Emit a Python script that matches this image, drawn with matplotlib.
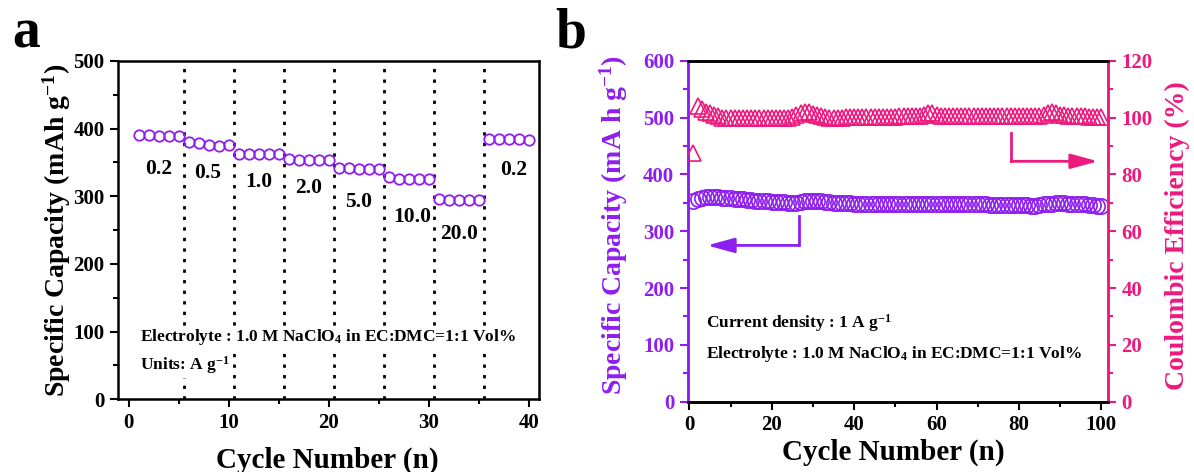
import numpy as np
import matplotlib
matplotlib.use('Agg')
import matplotlib.pyplot as plt
from matplotlib.ticker import MultipleLocator

plt.rcParams['font.family'] = ['Liberation Serif', 'DejaVu Serif']
plt.rcParams['font.weight'] = 'bold'
plt.rcParams['mathtext.fontset'] = 'custom'
plt.rcParams['mathtext.rm'] = 'Liberation Serif:bold'
plt.rcParams['mathtext.it'] = 'Liberation Serif:bold'
plt.rcParams['mathtext.bf'] = 'Liberation Serif:bold'
plt.rcParams['mathtext.default'] = 'rm'

PURPLE = '#8E1EF0'
PINK = '#EC1A7E'

# panel a: rate capability
rate_cycles = np.arange(1, 41)
rate_capacity = [390, 390, 389, 389, 389,
                 381, 379, 376, 375, 376,
                 362, 362, 363, 363, 362,
                 355, 354, 353, 353, 353,
                 342, 342, 341, 341, 341,
                 328, 326, 326, 326, 325,
                 296, 295, 294, 295, 295,
                 385, 385, 385, 384, 383]
rate_bounds = [5.5, 10.5, 15.5, 20.5, 25.5, 30.5, 35.5]
rate_labels = ['0.2', '0.5', '1.0', '2.0', '5.0', '10.0', '20.0', '0.2']
rate_label_x = [3.0, 7.9, 13.0, 18.0, 23.0, 28.3, 33.0, 38.5]
rate_label_y = [341, 335, 321, 312, 292, 270, 244, 339]

# panel b: cycling at 1 A/g
cyc = np.arange(1, 101)
cyc_capacity = [354, 357, 359, 360, 360, 360, 360, 359, 359, 358,
                357, 357, 356, 355, 355, 354, 354, 353, 353, 352,
                352, 351, 351, 350, 350, 350, 351, 353, 354, 354,
                354, 353, 352, 351, 350, 350, 349, 349, 349, 348,
                348, 348, 348, 347, 347, 347, 347, 347, 347, 347,
                347, 347, 347, 347, 347, 347, 348, 348, 348, 348,
                347, 347, 347, 347, 347, 347, 347, 347, 347, 347,
                347, 347, 346, 346, 346, 346, 346, 346, 346, 346,
                346, 346, 345, 345, 346, 347, 348, 348, 349, 349,
                349, 348, 348, 347, 347, 347, 346, 346, 345, 345]
cyc_ce = [87.5, 104.0, 103.0, 102.0, 101.5, 101.0, 100.5, 100.0, 100.0, 99.8,
          99.8, 99.8, 99.9, 100.0, 100.0, 100.0, 100.0, 100.0, 100.0, 100.0,
          100.0, 100.0, 100.0, 100.0, 100.3, 100.8, 101.5, 102.0, 101.8, 101.2,
          100.8, 100.5, 100.2, 100.0, 100.0, 100.0, 100.0, 100.2, 100.2, 100.2,
          100.3, 100.3, 100.3, 100.3, 100.3, 100.3, 100.3, 100.3, 100.3, 100.3,
          100.4, 100.4, 100.4, 100.4, 100.4, 100.5, 101.0, 101.7, 101.5, 101.0,
          100.6, 100.5, 100.5, 100.5, 100.5, 100.5, 100.5, 100.5, 100.5, 100.5,
          100.5, 100.5, 100.5, 100.5, 100.5, 100.5, 100.5, 100.5, 100.5, 100.5,
          100.5, 100.5, 100.5, 100.5, 100.6, 101.0, 101.5, 102.0, 101.6, 101.0,
          100.8, 100.6, 100.5, 100.4, 100.4, 100.4, 100.3, 100.3, 100.2, 100.2]

fig = plt.figure(figsize=(11.94, 4.72), dpi=100)
ax1 = fig.add_axes([0.0986, 0.154, 0.3528, 0.7168])
ax2 = fig.add_axes([0.5758, 0.1489, 0.3524, 0.7225])

tick_kw = dict(direction='out', width=1.5, labelsize=15)
note_fs = 12.5
white = dict(facecolor='white', edgecolor='none', pad=1)

# ---- panel a
for xb in rate_bounds:
    ax1.axvline(xb, color='black', lw=2, ls=(0, (1.2, 2.6)), zorder=1)
ax1.plot(rate_cycles, rate_capacity, 'o', ms=7.5, mfc='none', mec=PURPLE, mew=1.3, zorder=3)
for lab, lx, ly in zip(rate_labels, rate_label_x, rate_label_y):
    ax1.text(lx, ly, lab, ha='center', va='center', fontsize=15.5, fontweight='bold')
ax1.text(1.1, 92, 'Electrolyte : 1.0 M NaClO$_4$ in EC:DMC=1:1 Vol%', fontsize=note_fs,
         fontweight='bold', va='center', bbox=white, zorder=4)
ax1.text(1.1, 50, 'Units: A g$^{-1}$', fontsize=note_fs, fontweight='bold', va='center',
         bbox=white, zorder=4)
ax1.set_xlim(-1.1, 41.0)
ax1.set_ylim(0, 500)
ax1.xaxis.set_major_locator(MultipleLocator(10))
ax1.xaxis.set_minor_locator(MultipleLocator(5))
ax1.yaxis.set_major_locator(MultipleLocator(100))
ax1.yaxis.set_minor_locator(MultipleLocator(50))
ax1.tick_params(which='major', length=6, **tick_kw)
ax1.tick_params(which='minor', length=3.5, width=1.5, direction='out')
for sp in ax1.spines.values():
    sp.set_linewidth(1.8)
ax1.set_xlabel('Cycle Number (n)', fontsize=21, fontweight='bold')
ax1.set_ylabel('Specific Capacity (mAh g$^{-1}$)', fontsize=20, fontweight='bold')
ax1.xaxis.set_label_coords(0.498, -0.18)
ax1.xaxis.label.set_va('center')
ax1.yaxis.set_label_coords(-0.145, 0.5)
ax1.yaxis.label.set_va('center')

# ---- panel b
ax3 = ax2.twinx()
ax2.plot(cyc, cyc_capacity, 'o', ms=11, mfc='none', mec=PURPLE, mew=1.2, zorder=3)
ax3.plot(cyc, cyc_ce, '^', ms=11, mfc='none', mec=PINK, mew=1.2, zorder=3)

ax2.plot([26.5, 26.5], [326, 275], color=PURPLE, lw=2)
ax2.annotate('', xy=(4.3, 275), xytext=(26.5 + 0.1, 275),
             arrowprops=dict(arrowstyle='-|>,head_length=1.1,head_width=0.3', color=PURPLE, lw=2,
                             shrinkA=0, shrinkB=0, mutation_scale=15))
ax2.plot([78.2, 78.2], [472, 423], color=PINK, lw=2)
ax2.annotate('', xy=(99.2, 423), xytext=(78.2 - 0.1, 423),
             arrowprops=dict(arrowstyle='-|>,head_length=1.1,head_width=0.3', color=PINK, lw=2,
                             shrinkA=0, shrinkB=0, mutation_scale=15))

ax2.text(4.0, 138, 'Current density : 1 A g$^{-1}$', fontsize=note_fs, fontweight='bold', va='center')
ax2.text(4.0, 84, 'Electrolyte : 1.0 M NaClO$_4$ in EC:DMC=1:1 Vol%', fontsize=note_fs,
         fontweight='bold', va='center')

ax2.set_xlim(-0.45, 101.7)
ax2.set_ylim(0, 600)
ax3.set_ylim(0, 120)
ax2.xaxis.set_major_locator(MultipleLocator(20))
ax2.xaxis.set_minor_locator(MultipleLocator(10))
ax2.yaxis.set_major_locator(MultipleLocator(100))
ax2.yaxis.set_minor_locator(MultipleLocator(50))
ax3.yaxis.set_major_locator(MultipleLocator(20))
ax3.yaxis.set_minor_locator(MultipleLocator(10))

ax2.tick_params(axis='x', which='major', length=6, **tick_kw)
ax2.tick_params(axis='x', which='minor', length=3.5, width=1.5, direction='out')
ax2.tick_params(axis='y', which='major', length=6, colors=PURPLE, **tick_kw)
ax2.tick_params(axis='y', which='minor', length=3.5, width=1.5, direction='out', colors=PURPLE)
ax3.tick_params(axis='y', which='major', length=6, colors=PINK, **tick_kw)
ax3.tick_params(axis='y', which='minor', length=3.5, width=1.5, direction='out', colors=PINK)

for a in (ax2, ax3):
    for sp in a.spines.values():
        sp.set_linewidth(1.8)
ax3.spines['left'].set_color(PURPLE)
ax3.spines['right'].set_color(PINK)
ax2.spines['left'].set_color(PURPLE)
ax2.spines['right'].set_color(PINK)

ax2.set_xlabel('Cycle Number (n)', fontsize=21, fontweight='bold')
ax2.set_ylabel('Specific Capacity (mA h g$^{-1}$)', fontsize=20, fontweight='bold', color=PURPLE)
ax3.set_ylabel('Coulombic Efficiency (%)', fontsize=20, fontweight='bold', color=PINK)
ax2.xaxis.set_label_coords(0.49, -0.1475)
ax2.xaxis.label.set_va('center')
ax2.yaxis.set_label_coords(-0.175, 0.518)
ax2.yaxis.label.set_va('center')
ax3.yaxis.set_label_coords(1.165, 0.486)
ax3.yaxis.label.set_va('center')

fig.text(12 / 1194, 1 - 48 / 472, 'a', fontsize=40, fontweight='bold', ha='left', va='baseline')
fig.text(555 / 1194, 1 - 48 / 472, 'b', fontsize=40, fontweight='bold', ha='left', va='baseline')

fig.savefig('out.png', dpi=100)
